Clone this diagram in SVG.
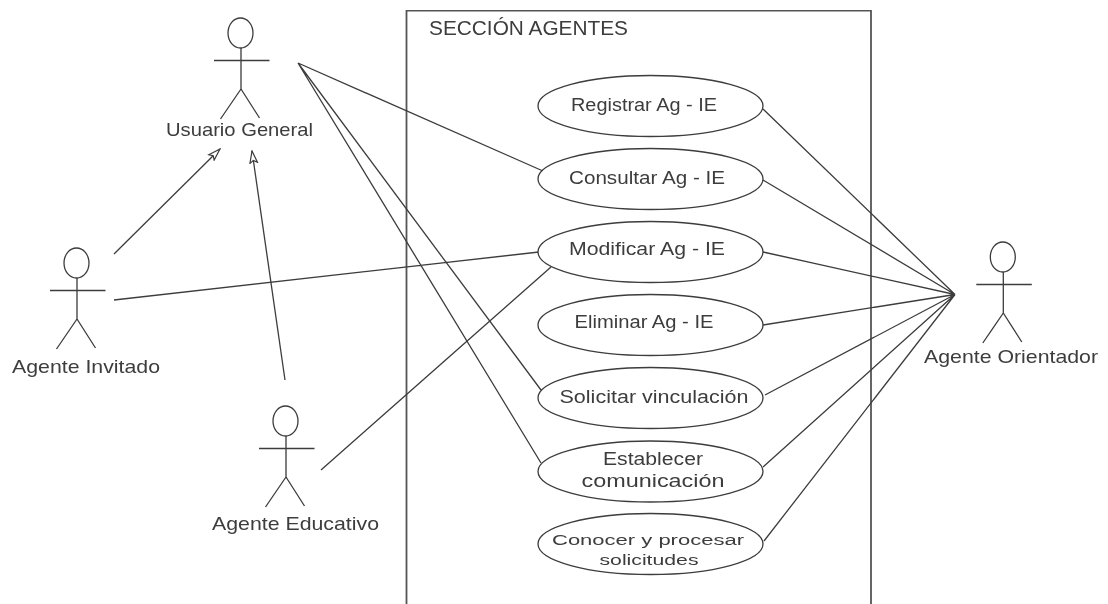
<svg xmlns="http://www.w3.org/2000/svg" width="1108" height="604" viewBox="0 0 1108 604">
<style>
.l{fill:none;stroke:#3c3c3c;stroke-width:1.3}
.u{fill:#fff;stroke:#3c3c3c;stroke-width:1.3}
.f{fill:none;stroke:#555;stroke-width:1.8}
text{font-family:"Liberation Sans",Arial,sans-serif;fill:#3c3c3c;text-anchor:middle}
.a{font-size:19px}
.c{font-size:17.5px}
.s{font-size:15.5px}
</style>
<defs>
<filter id="soft" x="0" y="0" width="100%" height="100%"><feGaussianBlur stdDeviation="0.35"/></filter>
<marker id="tri" viewBox="0 0 14 10" refX="13" refY="5" markerWidth="14" markerHeight="10" markerUnits="userSpaceOnUse" orient="auto"><path d="M13 5L1 1.200L3.500 5L1 8.800Z" fill="#fff" stroke="#3c3c3c" stroke-width="1.2"/></marker>
<g id="actor"><ellipse class="l" cx="0" cy="-27" rx="12.500" ry="15"/><path class="l" d="M-26.500 0.500H29M0.500-12V29M0.500 29L-20 59M0.500 29L19 58"/></g>
</defs>
<rect width="1108" height="604" fill="#fff"/>
<g filter="url(#soft)">
<path class="f" d="M406.500 604V10.500H871V604"/>
<text x="528.500" y="35" font-size="20.500" textLength="199" lengthAdjust="spacingAndGlyphs">SECCIÓN AGENTES</text>
<g id="connectors">
<path class="l" d="M298 63L543 171M298 63L541 390M298 63L541 463M114 300L539 252M321 470L551 267"/>
<path class="l" d="M955 294.500L763 109M955 294.500L763 180M955 294.500L763 252M955 294.500L763 325M955 294.500L765 395M955 294.500L763 467M955 294.500L764 541"/>
<path class="l" marker-end="url(#tri)" d="M114 254L220 149"/>
<path class="l" marker-end="url(#tri)" d="M285 380L252 151"/>
</g>
<g id="actor-usuario"><use href="#actor" x="240.500" y="60"/><text class="a" x="239.500" y="136" textLength="147" lengthAdjust="spacingAndGlyphs">Usuario General</text></g>
<g id="actor-invitado"><use href="#actor" x="76.500" y="290"/><text class="a" x="86" y="373" textLength="148" lengthAdjust="spacingAndGlyphs">Agente Invitado</text></g>
<g id="actor-educativo"><use href="#actor" x="285.500" y="448"/><text class="a" x="295.500" y="530" textLength="167" lengthAdjust="spacingAndGlyphs">Agente Educativo</text></g>
<g id="actor-orientador"><use href="#actor" x="1002.800" y="284"/><text class="a" x="1011" y="363" textLength="174" lengthAdjust="spacingAndGlyphs">Agente Orientador</text></g>
<g id="uc-registrar"><ellipse class="u" cx="650.500" cy="106" rx="112.500" ry="30.500"/><text class="c" x="644" y="111" textLength="146" lengthAdjust="spacingAndGlyphs">Registrar Ag - IE</text></g>
<g id="uc-consultar"><ellipse class="u" cx="650.500" cy="179" rx="112.500" ry="30.500"/><text class="c" x="647" y="184" textLength="156" lengthAdjust="spacingAndGlyphs">Consultar Ag - IE</text></g>
<g id="uc-modificar"><ellipse class="u" cx="650.500" cy="252" rx="112.500" ry="30.500"/><text class="c" x="647" y="255" textLength="156" lengthAdjust="spacingAndGlyphs">Modificar Ag - IE</text></g>
<g id="uc-eliminar"><ellipse class="u" cx="650.500" cy="325" rx="112.500" ry="30.500"/><text class="c" x="644" y="328" textLength="139" lengthAdjust="spacingAndGlyphs">Eliminar Ag - IE</text></g>
<g id="uc-solicitar"><ellipse class="u" cx="650.500" cy="398" rx="112.500" ry="30.500"/><text class="c" x="654" y="403" textLength="189" lengthAdjust="spacingAndGlyphs">Solicitar vinculación</text></g>
<g id="uc-establecer"><ellipse class="u" cx="650.500" cy="471.500" rx="112.500" ry="30.500"/><text class="c" x="653" y="465" textLength="100" lengthAdjust="spacingAndGlyphs">Establecer</text><text class="c" x="653" y="487" textLength="143" lengthAdjust="spacingAndGlyphs">comunicación</text></g>
<g id="uc-conocer"><ellipse class="u" cx="650.500" cy="544" rx="112.500" ry="30.500"/><text class="s" x="648" y="545" textLength="192" lengthAdjust="spacingAndGlyphs">Conocer y procesar</text><text class="s" x="649" y="565" textLength="99" lengthAdjust="spacingAndGlyphs">solicitudes</text></g>
</g>
</svg>
